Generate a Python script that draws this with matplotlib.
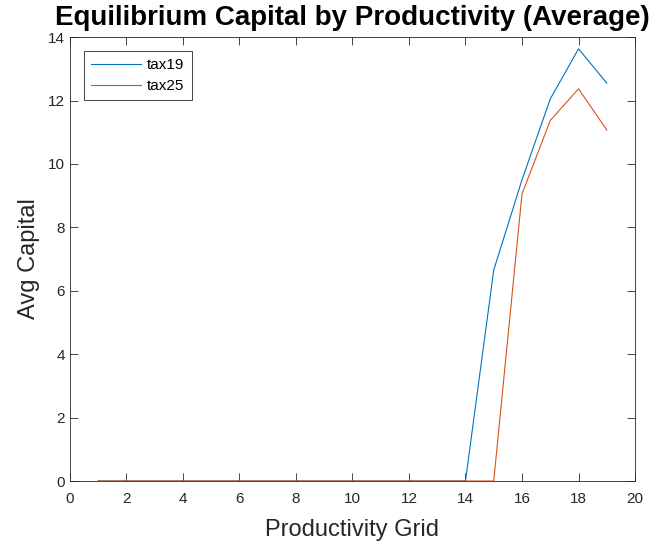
import matplotlib
matplotlib.use('Agg')
import matplotlib.pyplot as plt
import numpy as np

font = {'family': 'Liberation Sans',
        'weight': 'normal',
        'size': 11}
matplotlib.rc('font', **font)

grid = np.arange(1, 20)
tax19 = [0, 0, 0, 0, 0, 0, 0, 0, 0, 0, 0, 0, 0, 0, 6.65, 9.5, 12.05, 13.63, 12.55]
tax25 = [0, 0, 0, 0, 0, 0, 0, 0, 0, 0, 0, 0, 0, 0, 0, 9.05, 11.37, 12.37, 11.07]
labels = ['tax19', 'tax25']
colors = ['#0072BD', '#D95319']

fig = plt.figure(figsize=(6.52, 5.44), dpi=100)
ax = fig.add_axes([0.107, 0.1158, 0.867, 0.816])
for series, name, c in zip([tax19, tax25], labels, colors):
    ax.plot(grid, series, color=c, linewidth=0.8, label=name)

ax.set_xlim(0, 20)
ax.set_ylim(0, 14)
ax.set_xticks(np.arange(0, 21, 2))
ax.set_yticks(np.arange(0, 15, 2))
ax.tick_params(direction='in', top=True, right=True, length=6, width=0.6,
               colors='#262626', labelcolor='#262626', labelsize=11)
ax.tick_params(axis='x', pad=8)
for s in ax.spines.values():
    s.set_linewidth(0.6)
    s.set_color('#262626')

ax.set_xlabel('Productivity Grid', fontsize=17, color='#262626', labelpad=9)
ax.set_ylabel('Avg Capital', fontsize=17, color='#262626', labelpad=6)
ax.set_title('Equilibrium Capital by Productivity (Average)', fontsize=20,
             fontweight='bold', pad=9)

leg = ax.legend(loc='upper left', bbox_to_anchor=(0.025, 0.968), fontsize=11,
                fancybox=False, edgecolor='#262626', framealpha=1,
                handlelength=3.3, handletextpad=0.4, borderpad=0.45,
                labelspacing=0.45, borderaxespad=0)
leg.get_frame().set_linewidth(0.6)

fig.savefig('out.png', dpi=100)
